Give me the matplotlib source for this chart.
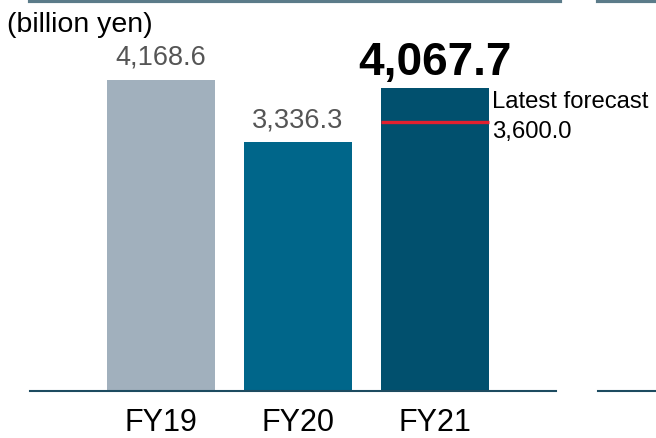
import matplotlib.pyplot as plt
from matplotlib.lines import Line2D

plt.rcParams['font.family'] = ['Liberation Sans', 'DejaVu Sans']

years = ['FY19', 'FY20', 'FY21']
values = [4168.6, 3336.3, 4067.7]
labels = ['4,168.6', '3,336.3', '4,067.7']
forecast = 3600.0
forecast_label = '3,600.0'
colors = ['#a1b0bd', '#00668a', '#01506e']

W, H = 656, 439
fig = plt.figure(figsize=(W / 100, H / 100), dpi=100)

# axes spans baseline (y=392 px) to figure top, x 30..558 px
ax = fig.add_axes([30 / W, (H - 392) / H, 528 / W, 392 / H])
ax.set_xlim(-0.956, 2.901)
ax.set_ylim(0, 5254)
ax.axis('off')

x = range(len(years))
ax.bar(x, values, width=0.788, color=colors, zorder=2)

# value labels
for i in range(2):
    ax.text(i, values[i] + 215, labels[i], ha='center', va='baseline',
            fontsize=19.5, color='#555555')
ax.text(2, values[2] + 180, labels[2], ha='center', va='baseline',
        fontsize=33, fontweight='bold', color='black')

# forecast line
ax.plot([2 - 0.394, 2 + 0.40], [forecast, forecast], color='#e3202e',
        lw=2.4, zorder=3, solid_capstyle='butt')
ax.text(2.42, forecast + 207, 'Latest forecast', ha='left', va='baseline',
        fontsize=17.2, color='black')
ax.text(2.42, forecast - 195, forecast_label, ha='left', va='baseline',
        fontsize=17.2, color='black')

# category labels
for i, yr in enumerate(years):
    fig.text((30 + (i + 0.956) * 137) / W, 1 - 423 / H, yr, ha='center',
             va='center', fontsize=22)

fig.text(7 / W, 1 - 25 / H, '(billion yen)', ha='left', va='center', fontsize=20.5)

# top band and baseline segments
band = '#5b7b89'
base = '#1d4b60'
for x0, x1 in [(30, 560), (598, 656)]:
    fig.add_artist(Line2D([x0 / W, x1 / W], [1 - 2 / H, 1 - 2 / H], color=band, lw=3))
for x0, x1 in [(30, 556), (598, 656)]:
    fig.add_artist(Line2D([x0 / W, x1 / W], [1 - 392 / H, 1 - 392 / H], color=base, lw=1.5))

fig.savefig('out.png', dpi=100)
